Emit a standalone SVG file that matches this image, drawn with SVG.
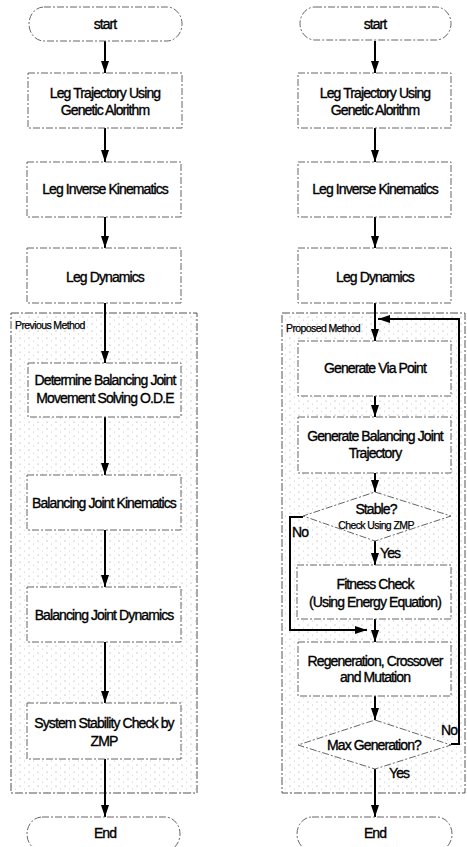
<svg xmlns="http://www.w3.org/2000/svg" width="467" height="847" viewBox="0 0 467 847">
<style>
.t{font-family:"Liberation Sans",Arial,sans-serif;font-size:14px;letter-spacing:-0.9px;fill:#000;stroke:#000;stroke-width:0.35px;text-anchor:middle;dominant-baseline:central}
.s{font-size:10.5px;letter-spacing:-0.6px;stroke-width:0.25px}
.l{text-anchor:start}
.b{fill:#fff;stroke:#666;stroke-width:1;stroke-dasharray:7 2 2 2}
.g{fill:url(#dots);stroke:#555;stroke-width:1;stroke-dasharray:8 2 2 2}
.c{fill:none;stroke:#000;stroke-width:2}
</style>
<defs>
<marker id="ah" markerUnits="userSpaceOnUse" markerWidth="12" markerHeight="8" refX="12" refY="4" orient="auto" viewBox="0 0 12 8">
<path d="M0,0 L12,4 L0,8 z" fill="#000"/>
</marker>
<pattern id="dots" width="9" height="7" patternUnits="userSpaceOnUse">
<rect width="9" height="7" fill="#fff"/>
<circle cx="2" cy="2" r="0.6" fill="#999"/>
<circle cx="6.5" cy="5" r="0.5" fill="#bbb"/>
</pattern>
</defs>

<g id="prev-method"><rect class="g" x="11" y="313" width="186" height="480"/><text class="t s l" x="15" y="325">Previous Method</text></g>
<g id="prop-method"><rect class="g" x="282" y="313" width="183" height="480"/><text class="t s l" x="286" y="328">Proposed Method</text></g>

<g id="connectors">
<line class="c" x1="105" y1="41" x2="105" y2="73" marker-end="url(#ah)"/>
<line class="c" x1="105" y1="128" x2="105" y2="162" marker-end="url(#ah)"/>
<line class="c" x1="105" y1="217" x2="105" y2="248" marker-end="url(#ah)"/>
<line class="c" x1="105" y1="303" x2="105" y2="363" marker-end="url(#ah)"/>
<line class="c" x1="105" y1="417" x2="105" y2="475" marker-end="url(#ah)"/>
<line class="c" x1="105" y1="530" x2="105" y2="587" marker-end="url(#ah)"/>
<line class="c" x1="105" y1="642" x2="105" y2="703" marker-end="url(#ah)"/>
<line class="c" x1="105" y1="759" x2="105" y2="817" marker-end="url(#ah)"/>

<line class="c" x1="375" y1="41" x2="375" y2="73" marker-end="url(#ah)"/>
<line class="c" x1="375" y1="128" x2="375" y2="162" marker-end="url(#ah)"/>
<line class="c" x1="375" y1="217" x2="375" y2="248" marker-end="url(#ah)"/>
<line class="c" x1="375" y1="303" x2="375" y2="341" marker-end="url(#ah)"/>
<line class="c" x1="375" y1="396" x2="375" y2="417" marker-end="url(#ah)"/>
<line class="c" x1="375" y1="473" x2="375" y2="492" marker-end="url(#ah)"/>
<line class="c" x1="375" y1="541" x2="375" y2="565" marker-end="url(#ah)"/>
<line class="c" x1="375" y1="619" x2="375" y2="642" marker-end="url(#ah)"/>
<line class="c" x1="375" y1="696" x2="375" y2="720" marker-end="url(#ah)"/>
<line class="c" x1="375" y1="769" x2="375" y2="817" marker-end="url(#ah)"/>
<polyline class="c" points="303,517 290,517 290,630 367,630" marker-end="url(#ah)"/>
<polyline class="c" points="451,744 459,744 459,319 378,319" marker-end="url(#ah)"/>
</g>

<g id="start-l"><rect class="b" x="29" y="7" width="153" height="34" rx="15" ry="17"/><text class="t" x="105" y="24">start</text></g>
<g id="traj-l"><rect class="b" x="28" y="73" width="154" height="55"/><text class="t" x="105" y="93">Leg Trajectory Using</text><text class="t" x="105" y="110">Genetic Alorithm</text></g>
<g id="ik-l"><rect class="b" x="27" y="162" width="154" height="55"/><text class="t" x="105" y="189">Leg Inverse Kinematics</text></g>
<g id="dyn-l"><rect class="b" x="27" y="248" width="154" height="55"/><text class="t" x="105" y="277">Leg Dynamics</text></g>
<g id="ode"><rect class="b" x="28" y="363" width="153" height="54"/><text class="t" x="105" y="380">Determine Balancing Joint</text><text class="t" x="105" y="398">Movement Solving O.D.E</text></g>
<g id="bjk"><rect class="b" x="27" y="475" width="154" height="55"/><text class="t" x="104" y="503">Balancing Joint  Kinematics</text></g>
<g id="bjd"><rect class="b" x="27" y="587" width="154" height="55"/><text class="t" x="104" y="615">Balancing Joint  Dynamics</text></g>
<g id="ssc"><rect class="b" x="27" y="703" width="154" height="56"/><text class="t" x="104" y="723">System Stability Check by</text><text class="t" x="104" y="741">ZMP</text></g>
<g id="end-l"><rect class="b" x="27" y="817" width="153" height="34" rx="15" ry="17"/><text class="t" x="105" y="833">End</text></g>

<g id="start-r"><rect class="b" x="300" y="7" width="151" height="33" rx="15" ry="17"/><text class="t" x="375" y="24">start</text></g>
<g id="traj-r"><rect class="b" x="298" y="73" width="153" height="55"/><text class="t" x="375" y="93">Leg Trajectory Using</text><text class="t" x="375" y="110">Genetic Alorithm</text></g>
<g id="ik-r"><rect class="b" x="298" y="162" width="153" height="55"/><text class="t" x="375" y="189">Leg Inverse Kinematics</text></g>
<g id="dyn-r"><rect class="b" x="298" y="248" width="153" height="55"/><text class="t" x="375" y="277">Leg Dynamics</text></g>
<g id="via"><rect class="b" x="298" y="341" width="153" height="55"/><text class="t" x="375" y="368">Generate Via Point</text></g>
<g id="bjt"><rect class="b" x="298" y="417" width="153" height="56"/><text class="t" x="375" y="436">Generate Balancing Joint</text><text class="t" x="375" y="453">Trajectory</text></g>
<g id="stable"><polygon class="b" points="375,492 451,516 375,541 303,516"/><text class="t" x="376" y="509">Stable?</text><text class="t s" x="376" y="525">Check Using ZMP</text><text class="t l" x="292" y="532">No</text><text class="t l" x="380" y="553">Yes</text></g>
<g id="fit"><rect class="b" x="297" y="565" width="154" height="54"/><text class="t" x="375" y="584">Fitness Check</text><text class="t" x="375" y="602">(Using Energy Equation)</text></g>
<g id="regen"><rect class="b" x="298" y="642" width="153" height="54"/><text class="t" x="375" y="661">Regeneration, Crossover</text><text class="t" x="375" y="677">and Mutation</text></g>
<g id="maxgen"><polygon class="b" points="375,720 451,745 375,769 298,745"/><text class="t" x="374" y="745">Max Generation?</text><text class="t l" x="441" y="730">No</text><text class="t l" x="389" y="773">Yes</text></g>
<g id="end-r"><rect class="b" x="297" y="817" width="155" height="34" rx="15" ry="17"/><text class="t" x="375" y="833">End</text></g>
</svg>
